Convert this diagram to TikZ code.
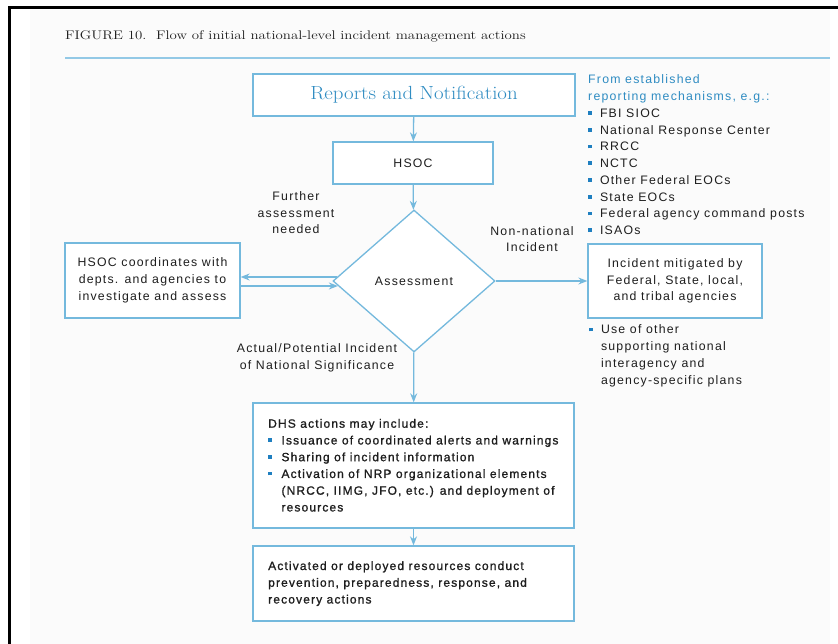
\documentclass[tikz,border=0pt]{standalone}
\usepackage{fontspec}
\usepackage{graphicx}
\usetikzlibrary{shapes.geometric,arrows.meta,calc}
\newfontfamily\bodyfont[LetterSpace=10]{Liberation Sans}
\newfontfamily\heavyfont[LetterSpace=9.5,FakeBold=1.1]{Liberation Sans}
\definecolor{lineblue}{HTML}{74B9DD}
\definecolor{headblue}{HTML}{2F8CC2}
\definecolor{bulblue}{HTML}{1F7FC0}
\definecolor{rulebl}{HTML}{93C9E6}
\definecolor{ink}{HTML}{1E1E1E}
\definecolor{panel}{HTML}{FBFBFB}
\newcommand{\bsq}{{\color{bulblue}\rule[2.6pt]{3.8pt}{3.8pt}}}
\tikzset{
  box/.style={draw=lineblue, line width=1.3pt, inner sep=0pt, fill=white},
  body/.style={font=\bodyfont\fontsize{12.3}{16.75}\selectfont, text=ink},
  txt/.style={body, inner sep=0pt},
  heavy/.style={font=\heavyfont\fontsize{12}{16.75}\selectfont, text=ink, inner sep=0pt},
  arr/.style={draw=lineblue, line width=1.3pt, -{Stealth[length=9pt,width=7pt]}},
}
\begin{document}
\begin{tikzpicture}[x=1pt,y=-1pt]
\useasboundingbox (0,0) rectangle (838,644);
% page frame and panel
\fill[panel] (30,10) rectangle (830,644);
\draw[line width=2.2pt] (9.5,644) -- (9.5,7.5) -- (838,7.5);
% heading and rule
\node[anchor=base west, inner sep=0pt, text=ink] (title) at (65,40)
  {\scalebox{1.19}[1]{\fontsize{12.5}{14}\selectfont FIGURE 10.\ \ Flow of initial national-level incident management actions}};
\draw[rulebl, line width=1.4pt] (65,58) -- (830,58);

% main boxes
\node[box, minimum width=322pt, minimum height=42pt, text=headblue] (rep) at (414,95)
  {\scalebox{1.1}[1]{\fontsize{19}{22}\selectfont Reports and Notification}};
\node[box, body, minimum width=160pt, minimum height=42pt] (hsoc) at (413,163) {HSOC};
\node[box, body, diamond, minimum width=162pt, minimum height=142pt] (assess) at (414,281) {Assessment};
\node[box, body, minimum width=175pt, minimum height=75pt, align=center] (left) at (152.5,280.5)
  {HSOC coordinates with\\depts. and agencies to\\investigate and assess};
\node[box, body, minimum width=174pt, minimum height=74pt, align=center] (right) at (675,281)
  {Incident mitigated by\\Federal, State, local,\\and tribal agencies};
\node[box, minimum width=321pt, minimum height=125pt] (dhs) at (413.5,465.5) {};
\node[box, minimum width=321pt, minimum height=75pt] (final) at (413.5,583.5) {};

% box contents
\node[heavy, anchor=base west] (dhstext) at (268,427.7) {\begin{tabular}[t]{@{}l@{\hspace{9.5pt}}l@{}}
\multicolumn{2}{@{}l@{}}{DHS actions may include:}\\
\bsq & Issuance of coordinated alerts and warnings\\
\bsq & Sharing of incident information\\
\bsq & Activation of NRP organizational elements\\
     & (NRCC, IIMG, JFO, etc.) and deployment of\\
     & resources
\end{tabular}};
\node[heavy, anchor=base west] (finaltext) at (268,570) {\begin{tabular}[t]{@{}l@{}}
Activated or deployed resources conduct\\
prevention, preparedness, response, and\\
recovery actions
\end{tabular}};

% side lists
\node[txt, anchor=base west] (src) at (588,84) {\begin{tabular}[t]{@{}l@{\hspace{8pt}}l@{}}
\multicolumn{2}{@{}l@{}}{\color{headblue}From established}\\
\multicolumn{2}{@{}l@{}}{\color{headblue}reporting mechanisms, e.g.:}\\
\bsq & FBI SIOC\\
\bsq & National Response Center\\
\bsq & RRCC\\
\bsq & NCTC\\
\bsq & Other Federal EOCs\\
\bsq & State EOCs\\
\bsq & Federal agency command posts\\
\bsq & ISAOs
\end{tabular}};
\node[txt, anchor=base west] (plans) at (589,334) {\begin{tabular}[t]{@{}l@{\hspace{8pt}}l@{}}
\bsq & Use of other\\
     & supporting national\\
     & interagency and\\
     & agency-specific plans
\end{tabular}};

% connector labels
\node[txt, align=center, anchor=base] (lblfurther) at (296,234) {Further\\assessment\\needed};
\node[txt, align=center, anchor=base] (lblnon) at (532,252) {Non-national\\Incident};
\node[txt, align=center, anchor=base] (lblact) at (317,369) {Actual/Potential Incident\\of National Significance};

% connectors
\draw[arr] (rep) -- (hsoc);
\draw[arr] (hsoc) -- (assess);
\draw[arr] (assess.east) -- (right.west);
\draw[arr] (assess) -- (dhs);
\draw[arr] (dhs) -- (final);
\coordinate (uppt) at ($(assess.west)+(4.5,-4)$);
\coordinate (lopt) at ($(assess.west)+(5.5,5)$);
\draw[arr] (uppt) -- (left.east |- uppt);
\draw[arr] (left.east |- lopt) -- (lopt);
\end{tikzpicture}
\end{document}
